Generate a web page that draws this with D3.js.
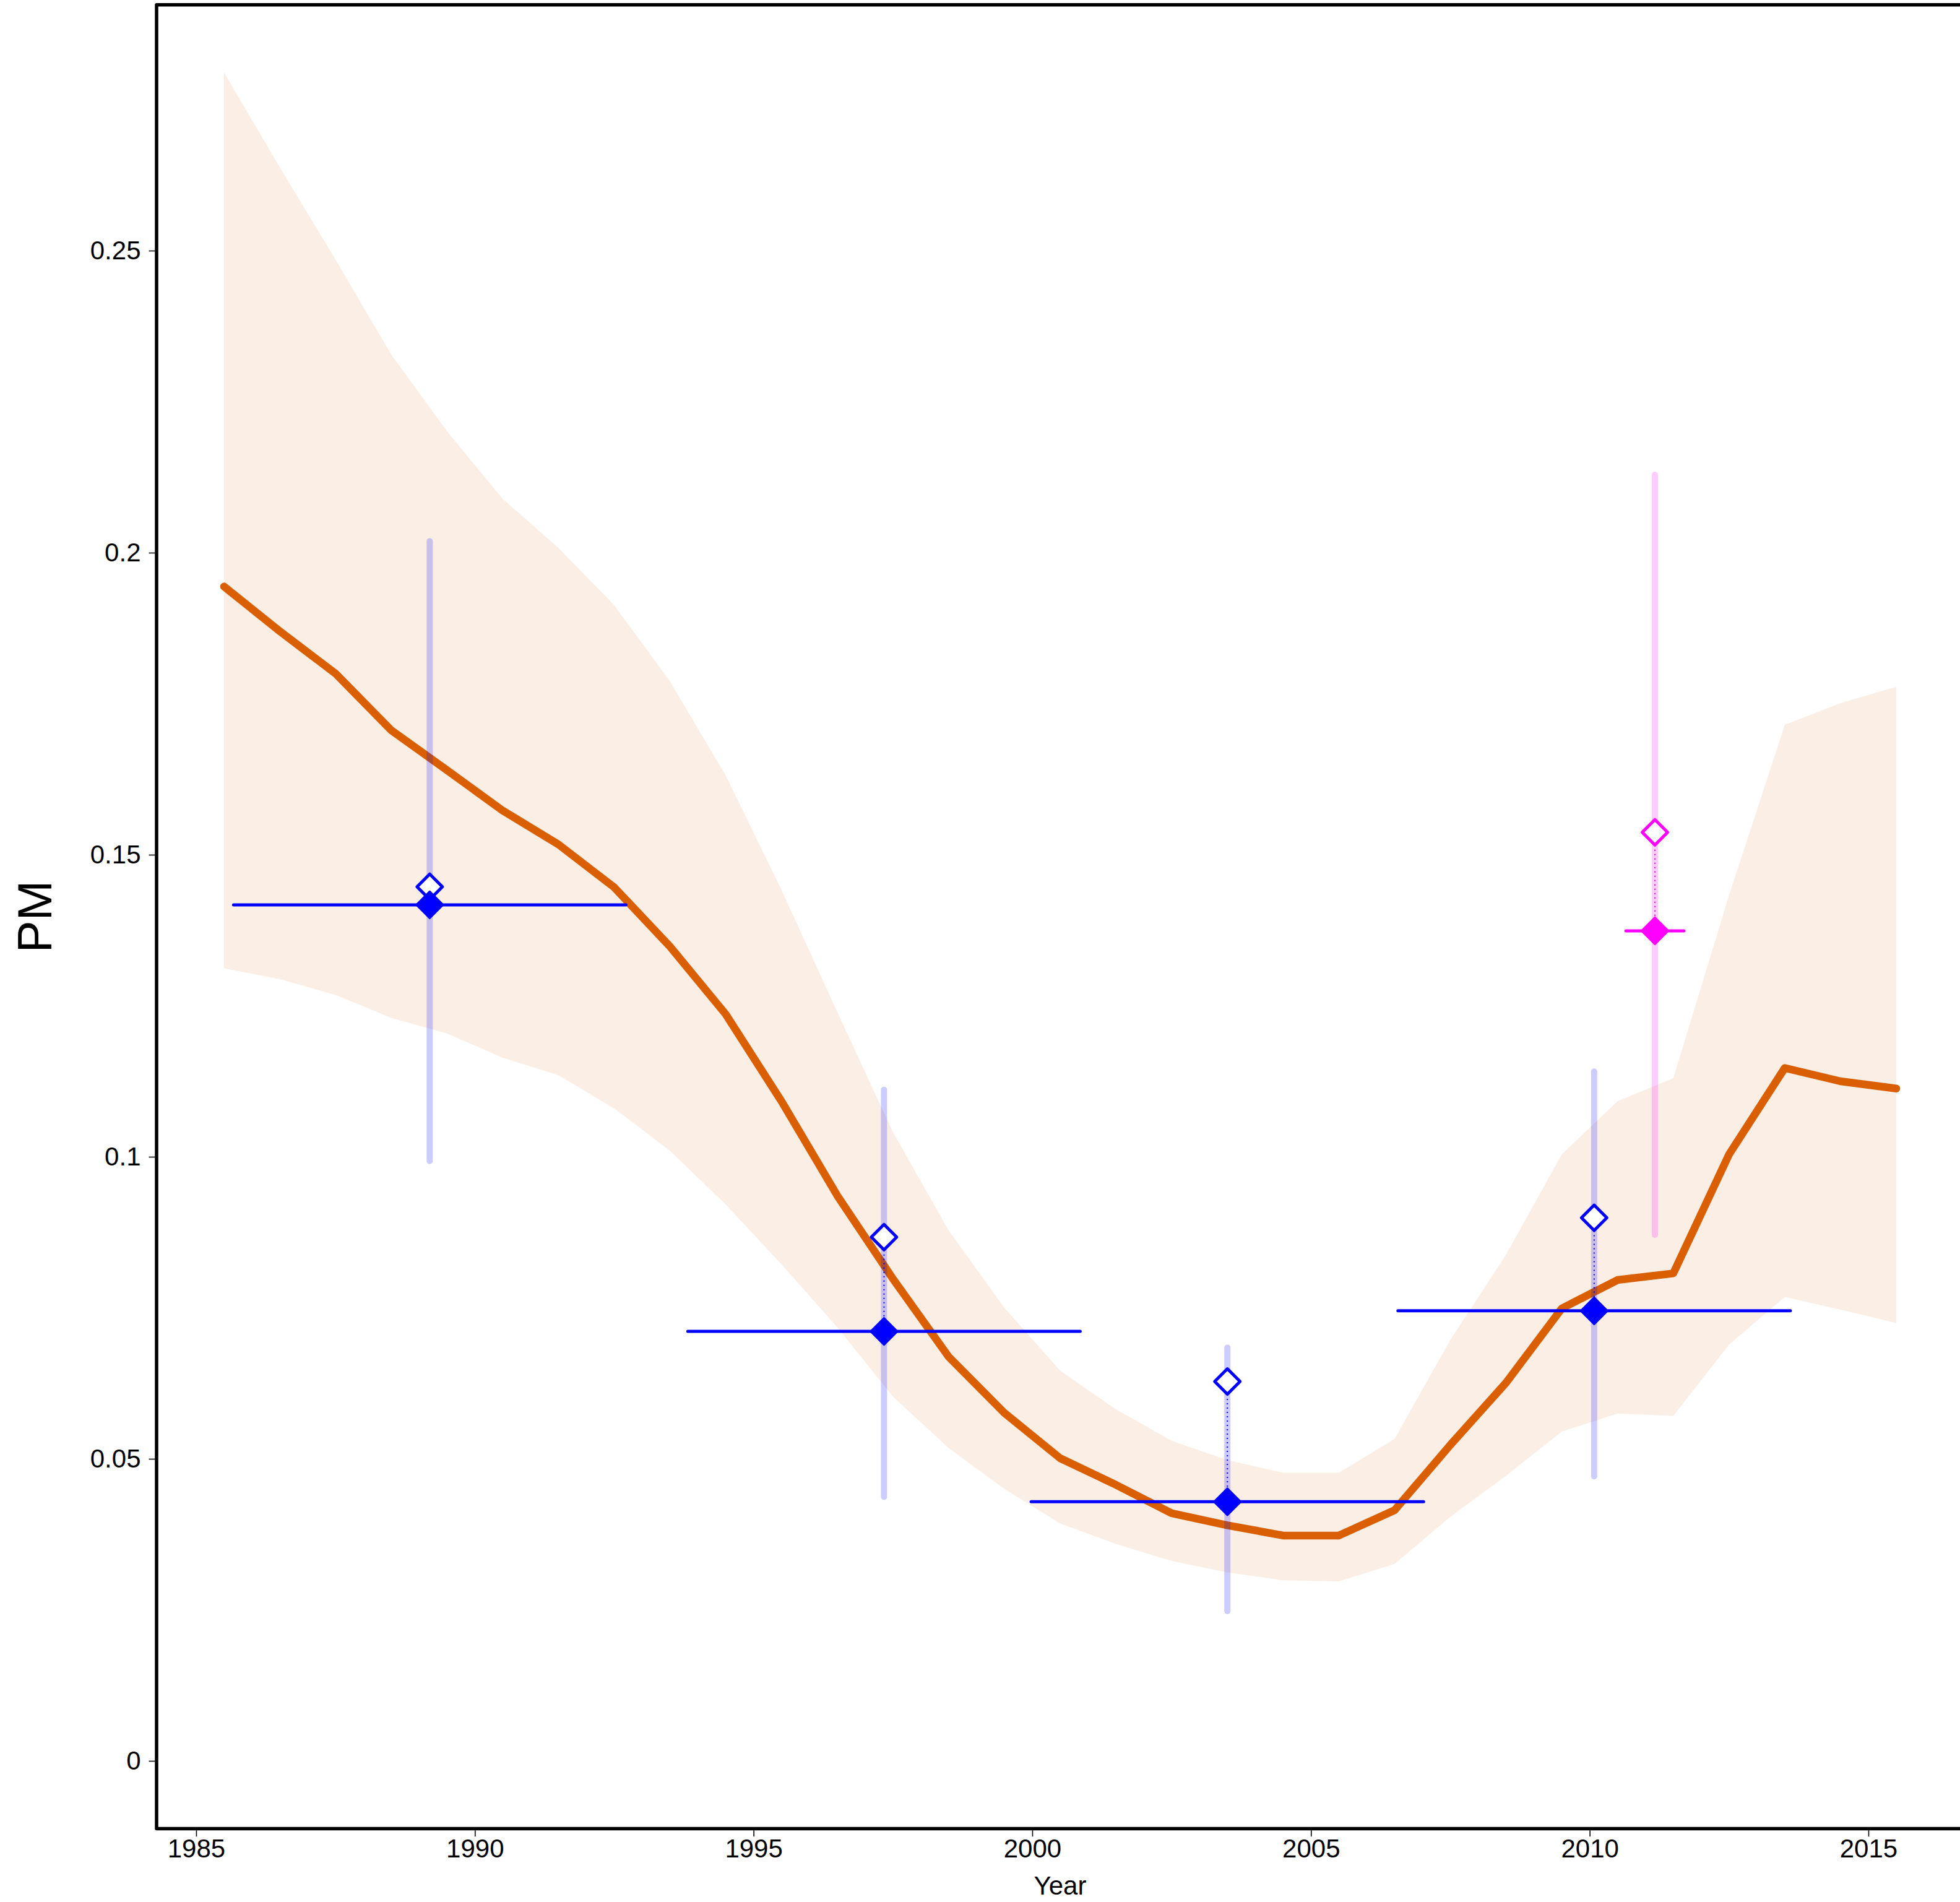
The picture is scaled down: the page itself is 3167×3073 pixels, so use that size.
<!DOCTYPE html>
<html>
<head>
<meta charset="utf-8">
<script src="https://cdn.jsdelivr.net/npm/d3@7"></script>
<style>
  html, body { margin: 0; padding: 0; background: #ffffff; }
  svg { display: block; }
  text { font-family: "Liberation Sans", Arial, Helvetica, sans-serif; fill: #000; }
</style>
</head>
<body>
<script>
// ---------------- data ----------------
const fitYears = [1985.5, 1986.5, 1987.5, 1988.5, 1989.5, 1990.5, 1991.5, 1992.5, 1993.5, 1994.5,
                  1995.5, 1996.5, 1997.5, 1998.5, 1999.5, 2000.5, 2001.5, 2002.5, 2003.5, 2004.5,
                  2005.5, 2006.5, 2007.5, 2008.5, 2009.5, 2010.5, 2011.5, 2012.5, 2013.5, 2014.5, 2015.5];
const fitValues = [0.1944, 0.1870, 0.1800, 0.1706, 0.1640, 0.1573, 0.1517, 0.1446, 0.1348, 0.1236,
                   0.1092, 0.0936, 0.0798, 0.0669, 0.0576, 0.0501, 0.0457, 0.0410, 0.0390, 0.0373,
                   0.0373, 0.0415, 0.0523, 0.0626, 0.0749, 0.0796, 0.0807, 0.1004, 0.1147, 0.1125, 0.1113];
const fitUpper = [0.2795, 0.2638, 0.2485, 0.2328, 0.2201, 0.2089, 0.2008, 0.1913, 0.1787, 0.1631,
                  0.1442, 0.1240, 0.1041, 0.0878, 0.0750, 0.0646, 0.0582, 0.0530, 0.0498, 0.0477,
                  0.0477, 0.0533, 0.0697, 0.0838, 0.1004, 0.1092, 0.1130, 0.1433, 0.1715, 0.1751, 0.1778];
const fitLower = [0.1312, 0.1294, 0.1268, 0.1230, 0.1204, 0.1164, 0.1135, 0.1080, 0.1010, 0.0921,
                  0.0822, 0.0718, 0.0603, 0.0518, 0.0450, 0.0393, 0.0359, 0.0331, 0.0312, 0.0299,
                  0.0297, 0.0326, 0.0404, 0.0472, 0.0545, 0.0575, 0.0571, 0.0689, 0.0768, 0.0747, 0.0725];

// survey estimates (blue) and one extra estimate (magenta)
const obsColor   = ["blue", "blue", "blue", "blue", "magenta"];
const obsYear    = [1989.19, 1997.34, 2003.50, 2010.08, 2011.17];
const obsHalfWin = [3.52, 3.52, 3.52, 3.52, 0.52];
const obsAdj     = [0.1417, 0.0711, 0.0429, 0.0745, 0.1374];
const obsRaw     = [0.1447, 0.0867, 0.0628, 0.0899, 0.1537];
const obsLow     = [0.0993, 0.0437, 0.0248, 0.0471, 0.0871];
const obsHigh    = [0.2019, 0.1111, 0.0684, 0.1141, 0.2129];

const xTicks = [1985, 1990, 1995, 2000, 2005, 2010, 2015];
const yTicks = [0, 0.05, 0.1, 0.15, 0.2, 0.25];
const yTickLabels = ["0", "0.05", "0.1", "0.15", "0.2", "0.25"];
const xTitle = "Year";
const yTitle = "PM";

// ---------------- layout ----------------
const W = 3167, H = 3073;
const pLeft = 253, pRight = 3173, pTop = 7.7, pBottom = 2954.5;
const x = d3.scaleLinear().domain([1984.29, 2016.71]).range([pLeft, pRight]);
const y = d3.scaleLinear().domain([-0.01122, 0.2907]).range([pBottom, pTop]);

const palette = {
  blue:    { solid: "#0000ff", ci: "rgba(0,0,255,0.2)" },
  magenta: { solid: "#ff00ff", ci: "rgba(255,0,255,0.2)" }
};
const fitColor = "#d95f02";

const svg = d3.select("body").append("svg").attr("width", W).attr("height", H);

// band
const fitData = fitYears.map((yr, i) => ({ yr, v: fitValues[i], lo: fitLower[i], hi: fitUpper[i] }));
svg.append("path")
  .datum(fitData)
  .attr("d", d3.area().x(d => x(d.yr)).y0(d => y(d.lo)).y1(d => y(d.hi)))
  .attr("fill", fitColor).attr("fill-opacity", 0.1).attr("stroke", "none");

// fit line
svg.append("path")
  .datum(fitData)
  .attr("d", d3.line().x(d => x(d.yr)).y(d => y(d.v)))
  .attr("fill", "none").attr("stroke", fitColor).attr("stroke-width", 12.5)
  .attr("stroke-linecap", "round").attr("stroke-linejoin", "round");

// observations
const obs = obsYear.map((yr, i) => ({
  yr, half: obsHalfWin[i], adj: obsAdj[i], raw: obsRaw[i], lo: obsLow[i], hi: obsHigh[i], c: palette[obsColor[i]]
}));

const g = svg.append("g");
// vertical CI bars
g.selectAll("line.ci").data(obs).join("line").attr("class", "ci")
  .attr("x1", d => x(d.yr)).attr("x2", d => x(d.yr))
  .attr("y1", d => y(d.lo)).attr("y2", d => y(d.hi))
  .attr("stroke", d => d.c.ci).attr("stroke-width", 10).attr("stroke-linecap", "round");
// horizontal window bars
g.selectAll("line.win").data(obs).join("line").attr("class", "win")
  .attr("x1", d => x(d.yr - d.half)).attr("x2", d => x(d.yr + d.half))
  .attr("y1", d => y(d.adj)).attr("y2", d => y(d.adj))
  .attr("stroke", d => d.c.solid).attr("stroke-width", 5).attr("stroke-linecap", "round");
// dotted connectors
g.selectAll("line.conn").data(obs).join("line").attr("class", "conn")
  .attr("x1", d => x(d.yr)).attr("x2", d => x(d.yr))
  .attr("y1", d => y(d.raw)).attr("y2", d => y(d.adj))
  .attr("stroke", d => d.c.solid).attr("stroke-width", 2).attr("stroke-dasharray", "2,5");

const diamond = r => `M0,${-r}L${r},0L0,${r}L${-r},0Z`;
// open diamonds (raw)
g.selectAll("path.raw").data(obs).join("path").attr("class", "raw")
  .attr("transform", d => `translate(${x(d.yr)},${y(d.raw)})`)
  .attr("d", diamond(20.5))
  .attr("fill", "#ffffff").attr("stroke", d => d.c.solid).attr("stroke-width", 5)
  .attr("stroke-linejoin", "round");
// filled diamonds (adjusted)
g.selectAll("path.adj").data(obs).join("path").attr("class", "adj")
  .attr("transform", d => `translate(${x(d.yr)},${y(d.adj)})`)
  .attr("d", diamond(22))
  .attr("fill", d => d.c.solid).attr("stroke", d => d.c.solid).attr("stroke-width", 2.5)
  .attr("stroke-linejoin", "round");

// axes
const yAxis = d3.axisLeft(y).tickValues(yTicks).tickFormat((d, i) => yTickLabels[i])
  .tickSize(10).tickPadding(13);
const ya = svg.append("g").attr("transform", `translate(250.5,0)`).call(yAxis);
ya.select(".domain").remove();
ya.selectAll(".tick line").attr("stroke", "#000").attr("stroke-width", 1.6);
ya.selectAll(".tick text").attr("font-size", 42).attr("font-family", "Liberation Sans, Arial, sans-serif");

const xAxis = d3.axisBottom(x).tickValues(xTicks).tickFormat(d3.format("d"))
  .tickSize(10).tickPadding(4);
const xa = svg.append("g").attr("transform", `translate(0,2957.3)`).call(xAxis);
xa.select(".domain").remove();
xa.selectAll(".tick line").attr("stroke", "#000").attr("stroke-width", 1.6);
xa.selectAll(".tick text").attr("font-size", 42).attr("font-family", "Liberation Sans, Arial, sans-serif");

// frame (top, left, bottom)
svg.append("path")
  .attr("d", `M${pRight + 20},${pTop}L${pLeft},${pTop}L${pLeft},${pBottom}L${pRight + 20},${pBottom}`)
  .attr("fill", "none").attr("stroke", "#000").attr("stroke-width", 5.5)
  .attr("stroke-linejoin", "round");

// titles
svg.append("text").attr("x", (pLeft + pRight) / 2).attr("y", 3061)
  .attr("text-anchor", "middle").attr("font-size", 42).text(xTitle);
svg.append("text").attr("transform", `translate(83,${(pTop + pBottom) / 2}) rotate(-90)`)
  .attr("text-anchor", "middle").attr("font-size", 78).text(yTitle);
</script>
</body>
</html>
